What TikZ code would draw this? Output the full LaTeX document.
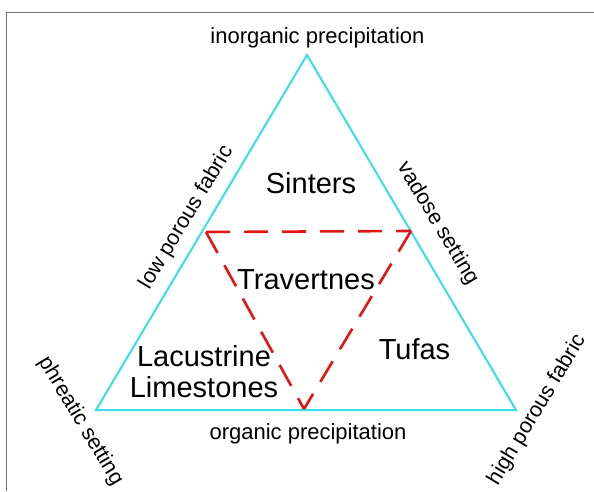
\documentclass[tikz,border=0pt]{standalone}
\usepackage{fontspec}
\setmainfont{Liberation Sans}
\definecolor{tricyan}{HTML}{38E0E6}
\definecolor{trired}{HTML}{E21515}
\definecolor{framegray}{HTML}{707070}
\tikzset{
  outer/.style={draw=tricyan, line width=2pt, line join=miter},
  inner/.style={draw=trired, line width=2.6pt, dash pattern=on 24pt off 14pt},
  small/.style={font=\fontsize{22}{26}\selectfont, inner sep=0pt},
  side/.style={font=\fontsize{21.5}{25}\selectfont, inner sep=0pt},
  big/.style={font=\fontsize{29}{31}\selectfont, inner sep=0pt},
}
\begin{document}
\begin{tikzpicture}[x=1pt,y=1pt]
\useasboundingbox (0,0) rectangle (594,491);
% frame
\draw[framegray, line width=1.2pt] (6.5,0) -- (6.5,478.5) -- (594,478.5);
% triangle
\coordinate (A) at (307,436);
\coordinate (B) at (96,81);
\coordinate (C) at (516,81);
\draw[outer] (A) -- (B) -- (C) -- cycle;
% dashed triangle
\coordinate (P) at (206,259);
\coordinate (Q) at (411,260);
\coordinate (R) at (304,82);
\draw[inner] (P) -- (Q);
\draw[inner] (Q) -- (R);
\draw[inner] (P) -- (R);
% labels
\node[small, anchor=base] (inorg) at (317.5,447) {inorganic precipitation};
\node[small, anchor=base] (org) at (308,52) {organic precipitation};
\node[big, anchor=base] (sint) at (311,298) {Sinters};
\node[big, anchor=base] (trav) at (306,202) {Travertnes};
\node[big, anchor=base] (lac1) at (204,125) {Lacustrine};
\node[big, anchor=base] (lac2) at (204,94) {Limestones};
\node[big, anchor=base] (tuf) at (414.5,132) {Tufas};
\node[side, rotate=59] (low) at (186.5,273.5) {low porous fabric};
\node[side, rotate=-59] (vad) at (437.5,267.5) {vadose setting};
\node[side, rotate=-59] (phr) at (80.5,70) {phreatic setting};
\node[side, rotate=59] (high) at (537,81) {high porous fabric};
\end{tikzpicture}
\end{document}
